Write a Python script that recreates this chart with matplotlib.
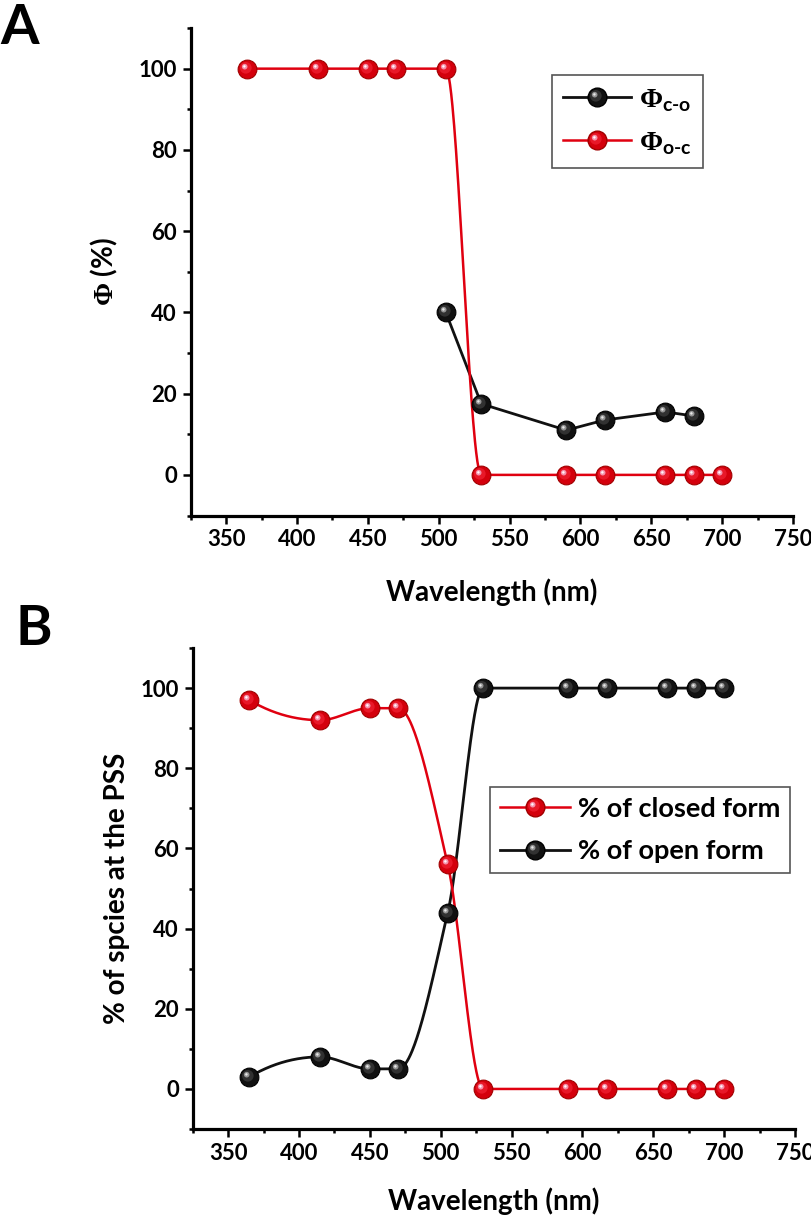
import numpy as np
import matplotlib
matplotlib.use("Agg")
import matplotlib.pyplot as plt
from matplotlib.path import Path
from matplotlib.lines import Line2D
from matplotlib.legend_handler import HandlerTuple
from matplotlib.ticker import MultipleLocator

plt.rcParams['font.family'] = ['Lato', 'DejaVu Sans']
plt.rcParams['font.weight'] = 'bold'
plt.rcParams['mathtext.fontset'] = 'custom'
plt.rcParams['mathtext.rm'] = 'Lato:bold'
plt.rcParams['mathtext.bf'] = 'Liberation Serif:bold'
plt.rcParams['mathtext.sf'] = 'Lato:bold'

# ---------------- data ----------------
# Panel A: quantum yields
wl_co = [505, 530, 590, 617, 660, 680]
phi_co = [40, 17.5, 11, 13.5, 15.5, 14.5]
wl_oc = [365, 415, 450, 470, 505, 530, 590, 617, 660, 680, 700]
phi_oc = [100, 100, 100, 100, 100, 0, 0, 0, 0, 0, 0]

# Panel B: PSS composition
wl_pss = [365, 415, 450, 470, 505, 530, 590, 617, 660, 680, 700]
closed_form = [97, 92, 95, 95, 56, 0, 0, 0, 0, 0, 0]
open_form = [3, 8, 5, 5, 44, 100, 100, 100, 100, 100, 100]

x_ticks = [350, 400, 450, 500, 550, 600, 650, 700, 750]
y_ticks = [0, 20, 40, 60, 80, 100]

RED = '#e00010'
BLACK = '#111111'


def pchip(x, y, xn):
    x = np.asarray(x, float); y = np.asarray(y, float)
    h = np.diff(x); d = np.diff(y) / h
    n = len(x)
    m = np.zeros(n)
    for k in range(1, n - 1):
        if d[k - 1] * d[k] <= 0:
            m[k] = 0.0
        else:
            w1 = 2 * h[k] + h[k - 1]
            w2 = h[k] + 2 * h[k - 1]
            m[k] = (w1 + w2) / (w1 / d[k - 1] + w2 / d[k])

    def endslope(h0, h1, d0, d1):
        s = ((2 * h0 + h1) * d0 - h0 * d1) / (h0 + h1)
        if np.sign(s) != np.sign(d0):
            s = 0.0
        elif np.sign(d0) != np.sign(d1) and abs(s) > abs(3 * d0):
            s = 3 * d0
        return s
    m[0] = endslope(h[0], h[1], d[0], d[1])
    m[-1] = endslope(h[-1], h[-2], d[-1], d[-2])
    xn = np.asarray(xn, float)
    idx = np.clip(np.searchsorted(x, xn) - 1, 0, n - 2)
    t = (xn - x[idx]) / h[idx]
    h00 = 2 * t**3 - 3 * t**2 + 1
    h10 = t**3 - 2 * t**2 + t
    h01 = -2 * t**3 + 3 * t**2
    h11 = t**3 - t**2
    return h00 * y[idx] + h10 * h[idx] * m[idx] + h01 * y[idx + 1] + h11 * h[idx] * m[idx + 1]


def hl_marker(cx, cy, r):
    c = Path.circle((cx, cy), r)
    verts = np.vstack([[1.0, 0.0], c.vertices])
    codes = np.concatenate([[Path.MOVETO], c.codes])
    return Path(verts, codes)


HL = [hl_marker(-0.18, 0.18, 0.62), hl_marker(-0.3, 0.3, 0.3), hl_marker(-0.33, 0.33, 0.13)]
RED_HL = ['#ea1a2a', '#f59ab4', '#ffffff']
BLK_HL = ['#333333', '#9a9a9a', '#eeeeee']
MS = 13.5


def balls(ax, x, y, base, edge, hls):
    ax.plot(x, y, ls='none', marker='o', ms=MS, mfc=base, mec=edge, mew=0.8, zorder=4)
    handles = []
    for p, c in zip(HL, hls):
        h, = ax.plot(x, y, ls='none', marker=p, ms=MS, mfc=c, mec='none', mew=0, zorder=5,
                     alpha=0.95)
        handles.append(h)
    return handles


def style(ax):
    ax.set_xlim(325, 750)
    ax.set_ylim(-10, 110)
    for s in ['top', 'right']:
        ax.spines[s].set_visible(False)
    for s in ['left', 'bottom']:
        ax.spines[s].set_linewidth(2.3)
    ax.set_xticks(x_ticks)
    ax.set_yticks(y_ticks)
    ax.xaxis.set_minor_locator(MultipleLocator(25))
    ax.yaxis.set_minor_locator(MultipleLocator(10))
    ax.tick_params(which='major', length=6, width=1.8, labelsize=16, pad=4)
    ax.tick_params(which='minor', length=3.2, width=1.8)
    for lab in ax.get_xticklabels() + ax.get_yticklabels():
        lab.set_fontweight('bold')
    ax.set_xlabel('Wavelength (nm)', fontsize=20, fontweight='bold')


fig = plt.figure(figsize=(8.12, 12.19), dpi=100)
ax1 = fig.add_axes([0.2349, 0.5771, 0.7417, 0.3999])
ax2 = fig.add_axes([0.2373, 0.0738, 0.7418, 0.3946])

# ---- Panel A ----
xs = np.linspace(min(wl_oc), max(wl_oc), 800)
ax1.plot(wl_co, phi_co, color=BLACK, lw=2.0, zorder=3)
ax1.plot(xs, pchip(wl_oc, phi_oc, xs), color=RED, lw=1.8, zorder=3)
hb = balls(ax1, wl_co, phi_co, BLACK, '#000000', BLK_HL)
hr = balls(ax1, wl_oc, phi_oc, '#d4000c', '#a00000', RED_HL)
style(ax1)
ax1.set_ylabel(r'$\mathbf{\Phi}$ (%)', fontsize=20, fontweight='bold')
ax1.yaxis.set_label_coords(-0.118, 0.5)
ax1.xaxis.set_label_coords(0.5, -0.128)

pb = Line2D([], [], color=BLACK, lw=2.0, marker='o', ms=MS, mfc=BLACK, mec='#000000')
pr = Line2D([], [], color=RED, lw=1.8, marker='o', ms=MS, mfc='#d4000c', mec='#a00000')
leg1 = ax1.legend([tuple([pb] + hb), tuple([pr] + hr)],
                  [r'$\mathbf{\Phi}_{\text{c-o}}$', r'$\mathbf{\Phi}_{\text{o-c}}$'],
                  handler_map={tuple: HandlerTuple(ndivide=1, pad=0)},
                  loc='upper left', bbox_to_anchor=(552 / 812, 1 - 75 / 1219),
                  bbox_transform=fig.transFigure, fontsize=20, frameon=True,
                  fancybox=False, edgecolor='#555555', framealpha=1,
                  handlelength=2.45, handletextpad=0.3, borderpad=0.4,
                  labelspacing=0.55, borderaxespad=0)
leg1.get_frame().set_linewidth(1.2)

# ---- Panel B ----
xs2 = np.linspace(min(wl_pss), max(wl_pss), 800)
ax2.plot(xs2, pchip(wl_pss, open_form, xs2), color=BLACK, lw=2.0, zorder=3)
ax2.plot(xs2, pchip(wl_pss, closed_form, xs2), color=RED, lw=1.8, zorder=3)
hb2 = balls(ax2, wl_pss, open_form, BLACK, '#000000', BLK_HL)
hr2 = balls(ax2, wl_pss, closed_form, '#d4000c', '#a00000', RED_HL)
style(ax2)
ax2.set_ylabel('% of spcies at the PSS', fontsize=20, fontweight='bold')
ax2.yaxis.set_label_coords(-0.104, 0.5)
ax2.xaxis.set_label_coords(0.5, -0.121)

pb2 = Line2D([], [], color=BLACK, lw=2.0, marker='o', ms=MS, mfc=BLACK, mec='#000000')
pr2 = Line2D([], [], color=RED, lw=1.8, marker='o', ms=MS, mfc='#d4000c', mec='#a00000')
leg2 = ax2.legend([tuple([pr2] + hr2), tuple([pb2] + hb2)],
                  ['% of closed form', '% of open form'],
                  handler_map={tuple: HandlerTuple(ndivide=1, pad=0)},
                  loc='upper left', bbox_to_anchor=(490 / 812, 1 - 787 / 1219),
                  bbox_transform=fig.transFigure, fontsize=19.5, frameon=True,
                  fancybox=False, edgecolor='#555555', framealpha=1,
                  handlelength=2.6, handletextpad=0.3, borderpad=0.36,
                  labelspacing=0.68, borderaxespad=0)
leg2.get_frame().set_linewidth(1.2)

# panel letters
fig.text(0.0, 1 - 44 / 1219, 'A', fontsize=40, fontweight='bold', va='baseline', ha='left')
fig.text(15 / 812, 1 - 645 / 1219, 'B', fontsize=40, fontweight='bold', va='baseline', ha='left')

fig.savefig('out.png', dpi=100)
